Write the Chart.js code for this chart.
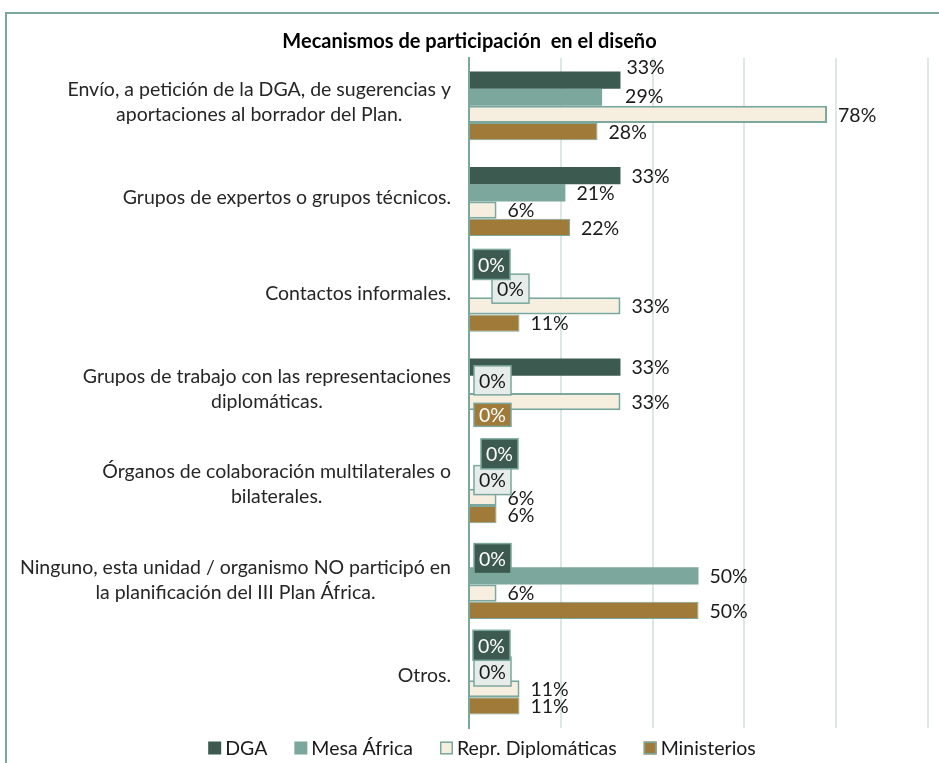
<!DOCTYPE html>
<html>
<head>
<meta charset="utf-8">
<script src="https://cdn.jsdelivr.net/npm/chart.js@4/dist/chart.umd.min.js"></script>
<style>
  html, body { margin: 0; padding: 0; background: #fff; }
  #wrap { width: 939px; height: 763px; }
</style>
</head>
<body>
<div id="wrap"><canvas id="chart" width="939" height="763"></canvas></div>
<script>
// Category labels (already split into lines like the original)
const categories = [
  ['Envío, a petición de la DGA, de sugerencias y', 'aportaciones al borrador del Plan.'],
  ['Grupos de expertos o grupos técnicos.'],
  ['Contactos informales.'],
  ['Grupos de trabajo con las representaciones', 'diplomáticas.'],
  ['Órganos de colaboración multilaterales o', 'bilaterales.'],
  ['Ninguno, esta unidad / organismo NO participó en', 'la planificación del III Plan África.'],
  ['Otros.']
];
const seriesNames = ['DGA', 'Mesa África', 'Repr. Diplomáticas', 'Ministerios'];

// Percentages per series
const dgaValues = [33, 33, 0, 33, 0, 0, 0];
const mesaValues = [29, 21, 0, 0, 0, 50, 0];
const reprValues = [78, 6, 33, 33, 6, 6, 11];
const ministeriosValues = [28, 22, 11, 0, 6, 50, 11];

const xTicks = [0, 20, 40, 60, 80, 100];

// colours
const colDGA = '#3d5a50';
const colMesa = '#7ba79c';
const colRepr = '#f6efe0';
const colMin = '#a07a38';
const teal = '#7ba79c';
const FONT = 'Lato, "Open Sans", sans-serif';
const FS = 19.5;

// small nudges for labels that the original moved to avoid overlaps  [dataset-category] -> [dx, dy]
const labelShift = {
  '0-0': [-5, -13], '1-0': [12, -2],
  '0-2': [-1, -7], '1-2': [18, 0],
  '1-3': [0, -4], '3-3': [0, -4],
  '0-4': [7, -9],
  '0-6': [-1, -9]
};
const zeroBox = [
  { fill: colDGA, text: '#ffffff', h: 30 },
  { fill: '#e5ecea', text: '#1a1a1a', h: 29 },
  { fill: colRepr, text: '#1a1a1a', h: 28 },
  { fill: colMin, text: '#ffffff', h: 23 }
];

// draws the frame around the chart
const framePlugin = {
  id: 'frame',
  beforeDraw(chart) {
    const ctx = chart.ctx;
    ctx.save();
    ctx.strokeStyle = teal;
    ctx.lineWidth = 2;
    ctx.strokeRect(6, 13, 960, 780);
    ctx.restore();
  }
};

// category labels: block right-aligned, lines centred within it
const catLabelPlugin = {
  id: 'catLabels',
  afterDraw(chart) {
    const ctx = chart.ctx;
    const yScale = chart.scales.y;
    const right = 451;
    const lh = 25;
    ctx.save();
    ctx.font = FS + 'px ' + FONT;
    ctx.fillStyle = '#262626';
    ctx.textBaseline = 'middle';
    ctx.textAlign = 'center';
    categories.forEach((lines, i) => {
      const cy = yScale.getPixelForValue(i) - 4;
      const w = Math.max(...lines.map(l => ctx.measureText(l).width));
      const cx = right - w / 2;
      const y0 = cy - (lines.length - 1) * lh / 2;
      lines.forEach((l, k) => ctx.fillText(l, cx, y0 + k * lh));
    });
    ctx.restore();
  }
};

// value labels, zero values get a filled box
const valueLabelPlugin = {
  id: 'valueLabels',
  afterDatasetsDraw(chart) {
    const ctx = chart.ctx;
    ctx.save();
    ctx.font = FS + 'px ' + FONT;
    ctx.textBaseline = 'middle';
    ctx.textAlign = 'left';
    for (let i = chart.data.datasets.length - 1; i >= 0; i--) {
      const ds = chart.data.datasets[i];
      const meta = chart.getDatasetMeta(i);
      meta.data.forEach((bar, j) => {
        const v = ds.data[j];
        const txt = v + '%';
        const s = labelShift[i + '-' + j] || [0, 0];
        if (v === 0) {
          const b = zeroBox[i];
          const left = bar.x + 5 + s[0];
          const cy = bar.y + s[1];
          const w = 37;
          ctx.fillStyle = b.fill;
          ctx.fillRect(left, cy - b.h / 2, w, b.h);
          ctx.strokeStyle = teal;
          ctx.lineWidth = 1.5;
          ctx.strokeRect(left, cy - b.h / 2, w, b.h);
          ctx.fillStyle = b.text;
          ctx.textAlign = 'center';
          ctx.fillText(txt, left + w / 2, cy + 1);
          ctx.textAlign = 'left';
        } else {
          ctx.fillStyle = '#1a1a1a';
          ctx.fillText(txt, bar.x + 11 + s[0], bar.y + s[1] + 1);
        }
      });
    }
    ctx.restore();
  }
};

// legend drawn by hand so spacing matches the original
const legendPlugin = {
  id: 'customLegend',
  afterDraw(chart) {
    const ctx = chart.ctx;
    const box = 13, gapText = 4, gapItem = 27;
    const cy = 748, centre = 482;
    ctx.save();
    ctx.font = FS + 'px ' + FONT;
    ctx.textBaseline = 'middle';
    ctx.textAlign = 'left';
    const items = chart.data.datasets.map(ds => ({
      text: ds.label, fill: ds.backgroundColor,
      stroke: ds.borderWidth ? ds.borderColor : null,
      w: box + gapText + ctx.measureText(ds.label).width
    }));
    const total = items.reduce((a, it) => a + it.w, 0) + gapItem * (items.length - 1);
    let x = centre - total / 2;
    items.forEach(it => {
      ctx.fillStyle = it.fill;
      ctx.fillRect(x, cy - box / 2, box, box);
      if (it.stroke) {
        ctx.strokeStyle = it.stroke;
        ctx.lineWidth = 1.5;
        ctx.strokeRect(x + 0.75, cy - box / 2 + 0.75, box - 1.5, box - 1.5);
      }
      ctx.fillStyle = '#1a1a1a';
      ctx.fillText(it.text, x + box + gapText, cy + 1);
      x += it.w + gapItem;
    });
    ctx.restore();
  }
};

const ctx = document.getElementById('chart').getContext('2d');
new Chart(ctx, {
  type: 'bar',
  data: {
    labels: categories,
    datasets: [
      { label: seriesNames[0], data: dgaValues, backgroundColor: colDGA, borderColor: colDGA, borderWidth: 0 },
      { label: seriesNames[1], data: mesaValues, backgroundColor: colMesa, borderColor: colMesa, borderWidth: 0 },
      { label: seriesNames[2], data: reprValues, backgroundColor: colRepr, borderColor: teal, borderWidth: 2 },
      { label: seriesNames[3], data: ministeriosValues, backgroundColor: colMin, borderColor: teal, borderWidth: 1 }
    ]
  },
  options: {
    indexAxis: 'y',
    responsive: false,
    animation: false,
    layout: { padding: { left: 11, right: 11, top: 0, bottom: 35 } },
    datasets: {
      bar: { categoryPercentage: 0.72, barPercentage: 1.0 }
    },
    scales: {
      x: {
        min: xTicks[0],
        max: xTicks[xTicks.length - 1],
        afterBuildTicks: (scale) => { scale.ticks = xTicks.map(v => ({ value: v })); },
        ticks: { display: false },
        grid: { color: '#dde7e3', lineWidth: 2, drawTicks: false },
        border: { display: false }
      },
      y: {
        ticks: { display: false },
        grid: { display: false, drawTicks: false },
        border: { display: true, color: teal, width: 2 },
        afterFit: (scale) => { scale.width = 458; }
      }
    },
    plugins: {
      title: {
        display: true,
        text: 'Mecanismos de participación  en el diseño',
        color: '#000',
        font: { family: FONT, size: 20, weight: 'bold', lineHeight: 1.2 },
        padding: { top: 30, bottom: 4 }
      },
      legend: { display: false },
      tooltip: { enabled: false }
    }
  },
  plugins: [framePlugin, catLabelPlugin, valueLabelPlugin, legendPlugin]
});
</script>
</body>
</html>
